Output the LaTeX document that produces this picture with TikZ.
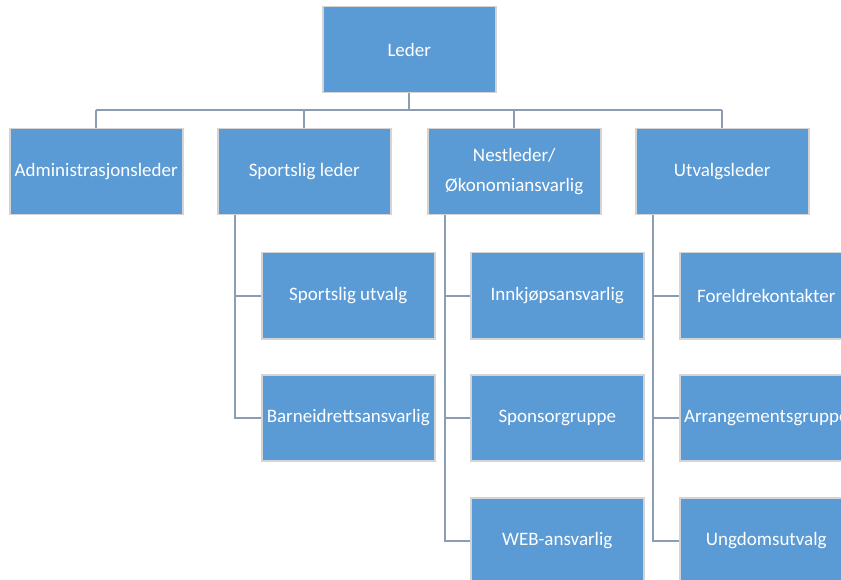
\documentclass[tikz,border=0pt]{standalone}
\usepackage{fontspec}
\setmainfont{Carlito}
\definecolor{boxfill}{HTML}{5B9BD5}
\definecolor{boxline}{HTML}{D4D4D4}
\definecolor{conn}{HTML}{8A9DB2}
\begin{document}
\begin{tikzpicture}[x=1pt,y=-1pt,
  orgbox/.style={draw=boxline,line width=1.5pt,fill=boxfill,minimum width=173pt,minimum height=86pt,
    text=white,font=\fontsize{19}{30}\selectfont,align=center,inner sep=0pt,anchor=north west},
  link/.style={draw=conn,line width=2pt}]
\useasboundingbox (0,0) rectangle (841,580);
\begin{scope}
\clip (0,0) rectangle (841,580);
\node[orgbox] (leder) at (322,6) {Leder};
\node[orgbox] (adm) at (9,128) {Administrasjonsleder};
\node[orgbox] (sport) at (217,128) {Sportslig leder};
\node[orgbox] (nest) at (427,128) {Nestleder/\\Økonomiansvarlig};
\node[orgbox] (utv) at (635,128) {Utvalgsleder};
\coordinate (bus) at (0,110);
\draw[link] (leder.south) -- (leder.south |- bus);
\draw[link] (adm.north |- bus) -- (utv.north |- bus);
\foreach \n in {adm,sport,nest,utv}{\draw[link] (\n.north |- bus) -- (\n.north);}
\node[orgbox] (su) at (261,252) {Sportslig utvalg};
\node[orgbox] (ba) at (261,374) {Barneidrettsansvarlig};
\node[orgbox] (in) at (470,252) {Innkjøpsansvarlig};
\node[orgbox] (sp) at (470,374) {Sponsorgruppe};
\node[orgbox] (web) at (470,497) {WEB-ansvarlig};
\node[orgbox] (fo) at (679,252) {Foreldrekontakter};
\node[orgbox] (ar) at (679,374) {Arrangementsgruppe};
\node[orgbox] (ung) at (679,497) {Ungdomsutvalg};
\coordinate (sx) at (235,0);
\coordinate (nx) at (445,0);
\coordinate (ux) at (653,0);
\draw[link] (sport.south -| sx) |- (ba.west);
\draw[link] (sx |- su.west) -- (su.west);
\draw[link] (nest.south -| nx) |- (web.west);
\draw[link] (nx |- in.west) -- (in.west);
\draw[link] (nx |- sp.west) -- (sp.west);
\draw[link] (utv.south -| ux) |- (ung.west);
\draw[link] (ux |- fo.west) -- (fo.west);
\draw[link] (ux |- ar.west) -- (ar.west);
\end{scope}
\end{tikzpicture}
\end{document}
